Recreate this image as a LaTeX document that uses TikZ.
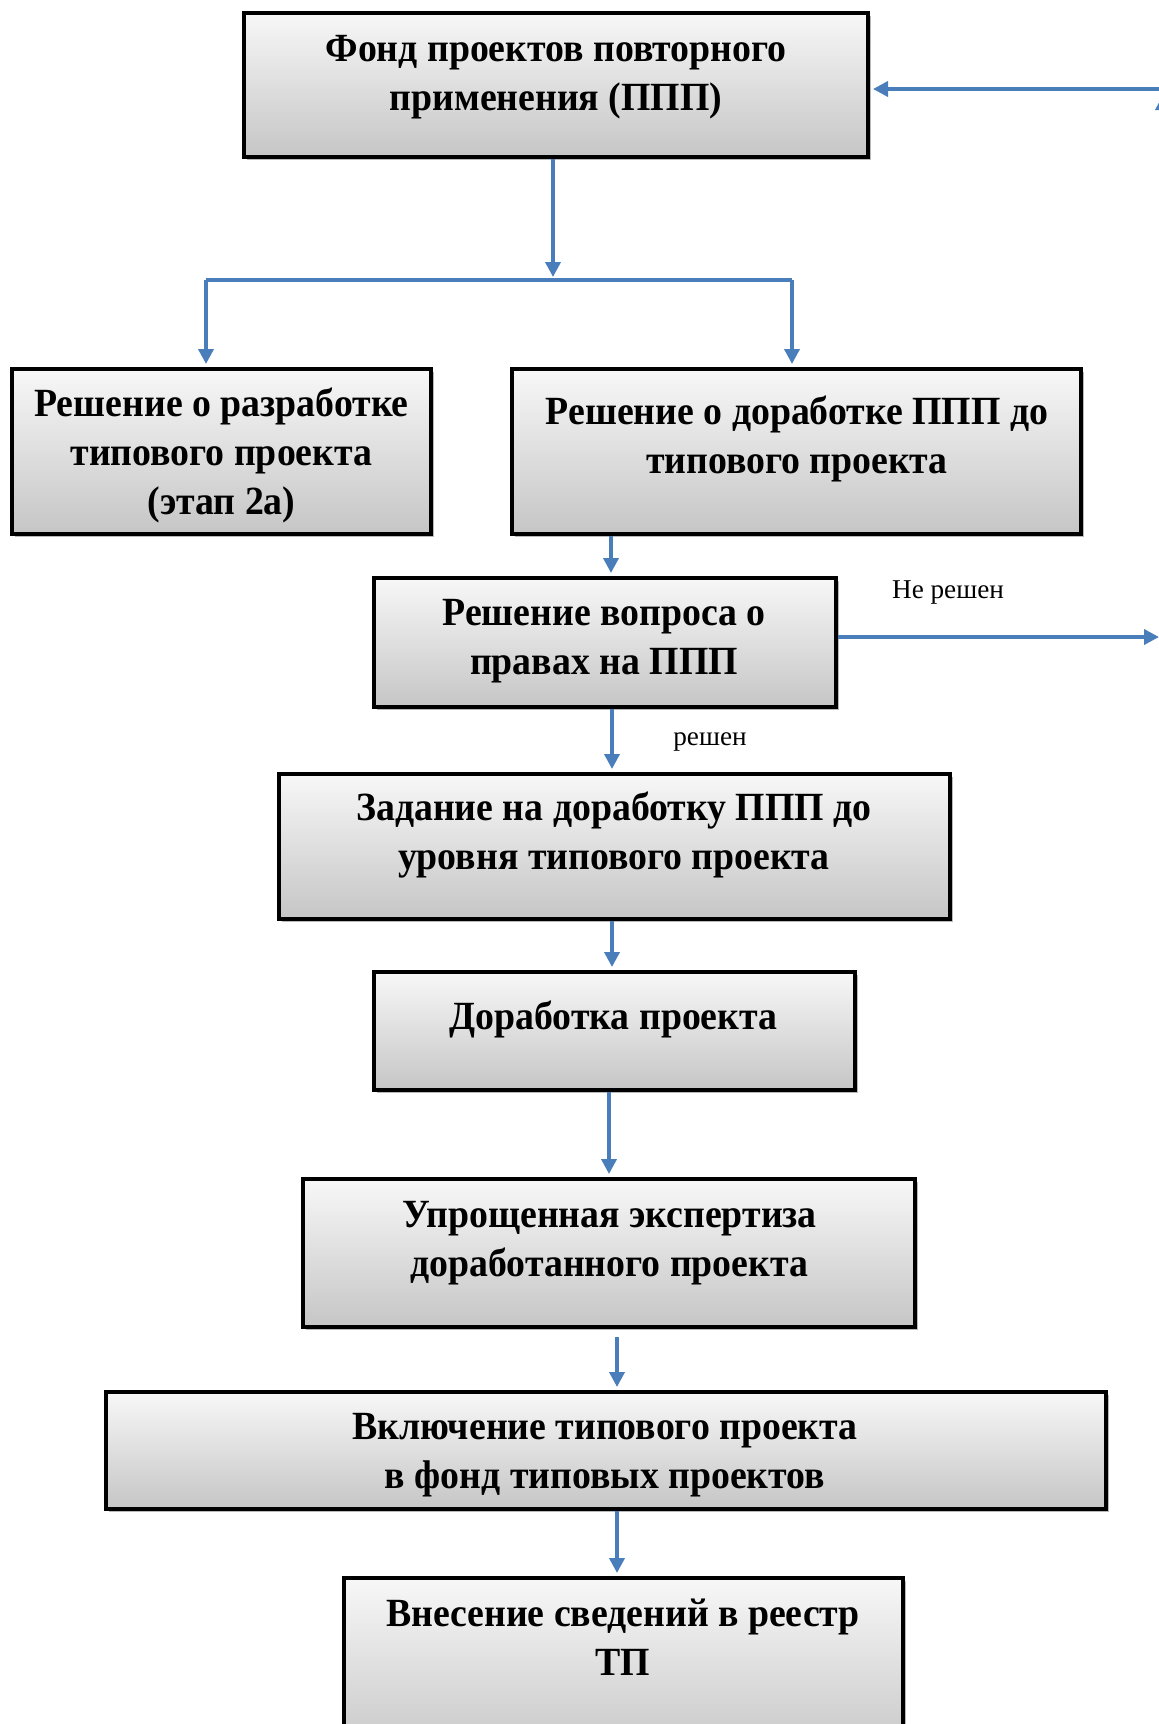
\documentclass[tikz,border=0pt]{standalone}
\usepackage{fontspec}
\setmainfont{Liberation Serif}[BoldFeatures={FakeStretch=0.945}]
\usetikzlibrary{arrows.meta,shadows}
\definecolor{Flow}{HTML}{4A7EBB}

\begin{document}
\begin{tikzpicture}[x=0.5pt, y=-0.5pt, >={Triangle[length=7.5pt,width=7.5pt]},
  box/.style={draw=black, line width=2pt, top color=gray!6, bottom color=gray!45,
    drop shadow={shadow xshift=1.5pt, shadow yshift=-1.5pt, fill=gray!55, opacity=1}, inner sep=0pt},
  txt/.style={font=\bfseries\fontsize{20}{24.5}\selectfont, align=center, inner sep=0pt},
  note/.style={font=\fontsize{13.6}{16}\selectfont, inner sep=0pt},
  flow/.style={->, draw=Flow, line width=1.8pt, shorten >=1.5pt}]
  \path[use as bounding box, clip] (0,0) rectangle (1159,1724);

  \node[box, minimum width=312pt, minimum height=72pt] (b1) at (556,85) {};
  \node[box, minimum width=209.5pt, minimum height=82.5pt] (b2) at (221.5,451.5) {};
  \node[box, minimum width=284.5pt, minimum height=82.5pt] (b3) at (796.5,451.5) {};
  \node[box, minimum width=231pt, minimum height=64.5pt] (b4) at (605,642.5) {};
  \node[box, minimum width=335.5pt, minimum height=72.5pt] (b5) at (614.5,846.5) {};
  \node[box, minimum width=240.5pt, minimum height=59pt] (b6) at (614.5,1031) {};
  \node[box, minimum width=306pt, minimum height=74pt] (b7) at (609,1253) {};
  \node[box, minimum width=500pt, minimum height=58.5pt] (b8) at (606,1450.5) {};
  \node[box, minimum width=279.5pt, minimum height=91pt] (b9) at (623.5,1669) {};

  \coordinate (s) at (553,280);
  \coordinate (sl) at (206,280);
  \coordinate (sr) at (792,280);
  \coordinate (c3) at (611,0);
  \coordinate (c4) at (612,0);
  \coordinate (c6) at (609,0);
  \coordinate (c7) at (617,0);
  \coordinate (ne) at (1159,637);
  \coordinate (nw) at (1159,89);
  \coordinate (ue) at (1163,637);
  \coordinate (up) at (1163,95);

  \draw[flow] (b1.south -| s) -- (s);
  \draw[Flow, line width=1.8pt] (sl) -- (sr);
  \draw[flow] (sl) -- (sl |- b2.north);
  \draw[flow] (sr) -- (sr |- b3.north);
  \draw[flow] (b3.south -| c3) -- (b4.north -| c3);
  \draw[flow] (b4.south -| c4) -- (b5.north -| c4);
  \draw[flow] (b5.south -| c4) -- (b6.north -| c4);
  \draw[flow] (b6.south -| c6) -- (b7.north -| c6);
  \draw[flow, shorten <=4pt] (b7.south -| c7) -- (b8.north -| c7);
  \draw[flow] (b8.south -| c7) -- (b9.north -| c7);
  \draw[flow, shorten >=0pt] (b4.east |- ne) -- (ne);
  \draw[flow] (nw) -- (b1.east |- nw);
  \draw[flow, shorten >=0pt] (ue) -- (up);

  \node[txt] (t1) at (556,77) {Фонд проектов повторного\\применения (ППП)};
  \node[txt] (t2) at (221.5,455.7) {Решение о разработке\\типового проекта\\(этап 2а)};
  \node[txt] (t3) at (797,439.3) {Решение о доработке ППП до\\типового проекта};
  \node[txt] (t4) at (604,641) {Решение вопроса о\\правах на ППП};
  \node[txt] (t5) at (614,835.2) {Задание на доработку ППП до\\уровня типового проекта};
  \node[txt] (t6) at (613.5,1019.2) {Доработка проекта};
  \node[txt] (t7) at (609.5,1243) {Упрощенная экспертиза\\доработанного проекта};
  \node[txt] (t8) at (605,1455.4) {Включение типового проекта\\в фонд типовых проектов};
  \node[txt] (t9) at (623,1637.5) {Внесение сведений в реестр\\ТП};

  \node[note] (n1) at (948,592.3) {Не решен};
  \node[note] (n2) at (710,742.4) {решен};
\end{tikzpicture}
\end{document}
